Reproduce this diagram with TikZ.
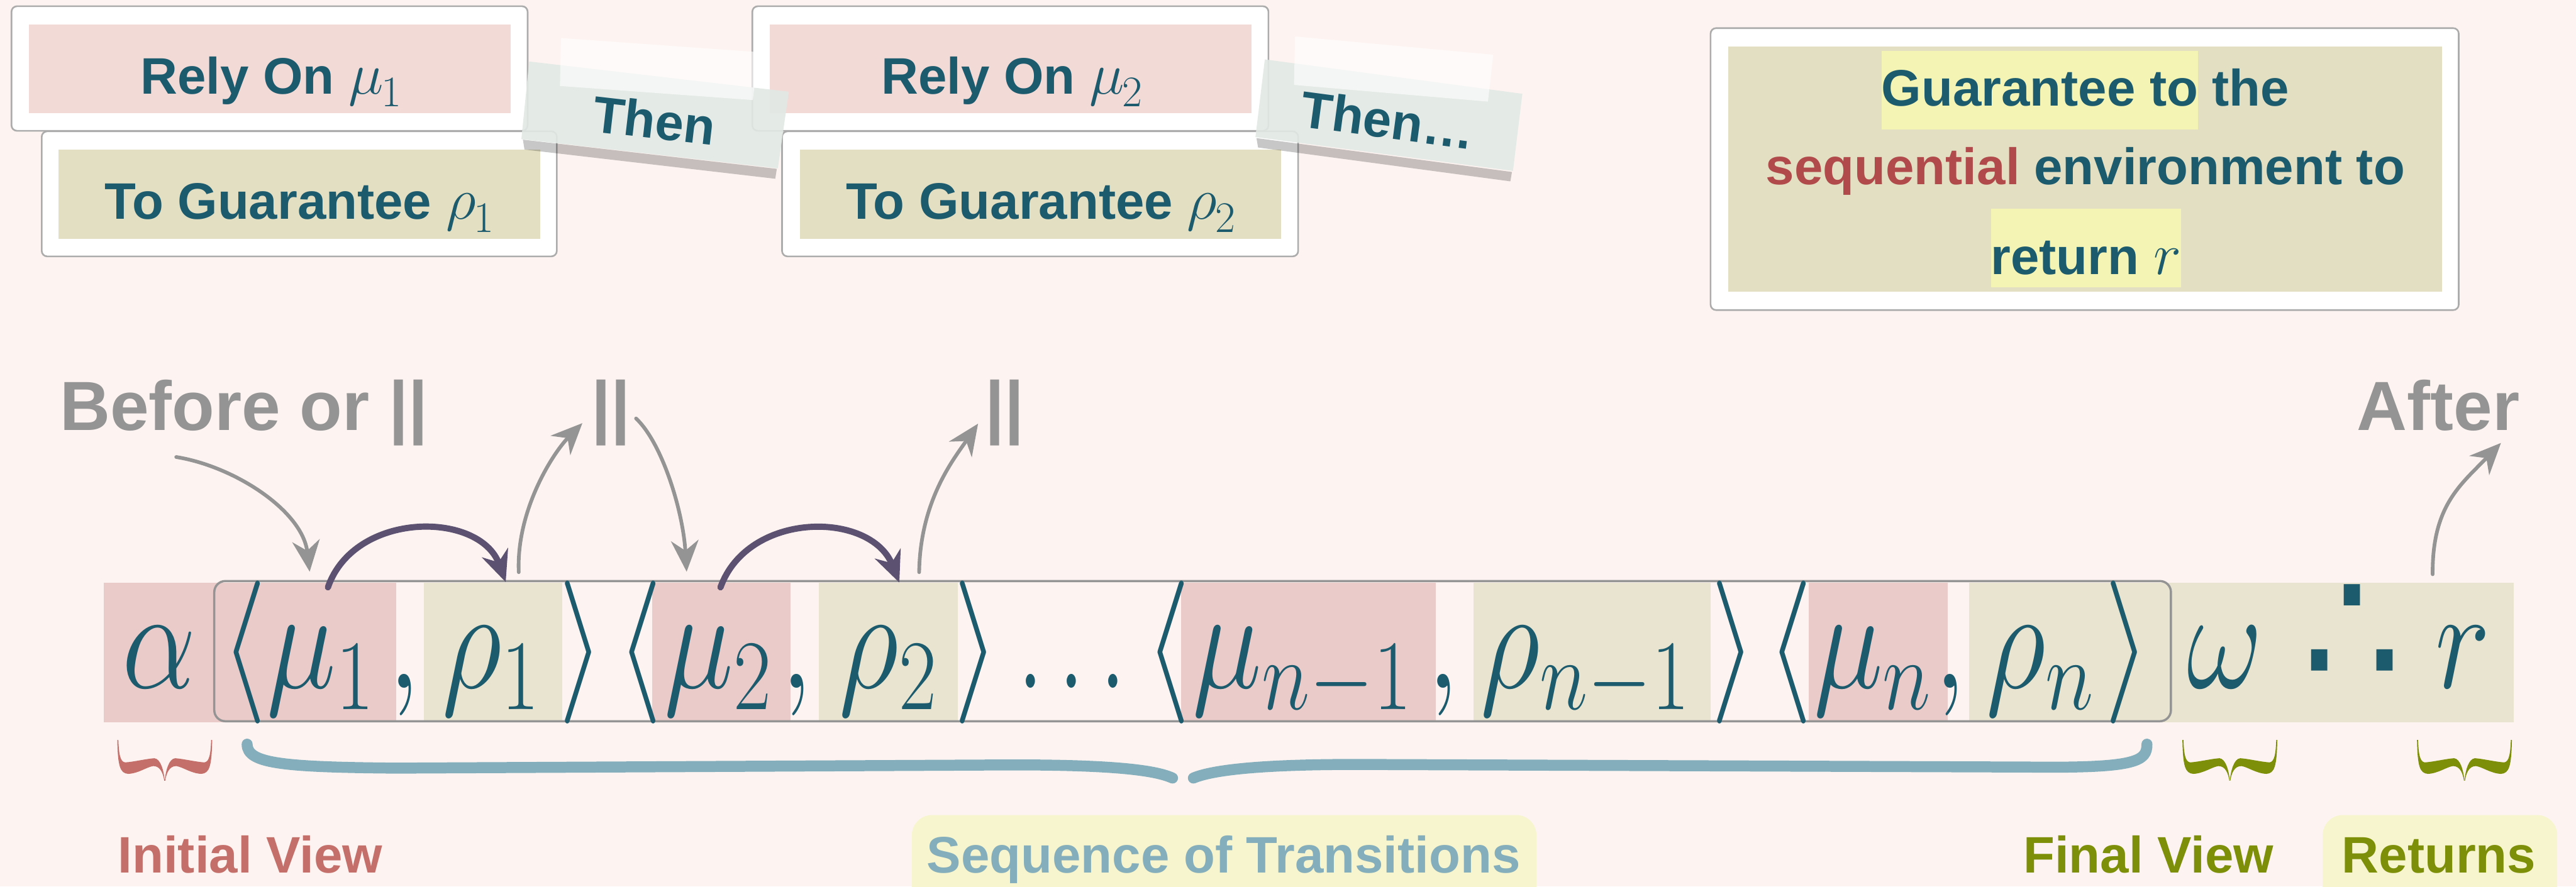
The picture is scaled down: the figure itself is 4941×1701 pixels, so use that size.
\RequirePackage{fix-cm}
\documentclass[tikz,border=0pt]{standalone}
\usepackage{fontspec}
\setmainfont{Liberation Sans}
\newfontfamily\djv{DejaVu Sans}
\usetikzlibrary{arrows.meta}
\setlength{\fboxsep}{0pt}
\definecolor{bgc}{HTML}{FDF4F1}
\definecolor{tealc}{HTML}{1C5A6E}
\definecolor{pinkbox}{HTML}{F2DAD7}
\definecolor{beigebox}{HTML}{E3DFC2}
\definecolor{pinkf}{HTML}{EACBC9}
\definecolor{beigef}{HTML}{E9E4CF}
\definecolor{hl}{HTML}{F4F4B4}
\definecolor{seqbg}{HTML}{F7F5CD}
\definecolor{redc}{HTML}{C46F6A}
\definecolor{seqred}{HTML}{B04A4B}
\definecolor{bluec}{HTML}{84AEBB}
\definecolor{olivec}{HTML}{7D8F08}
\definecolor{grayc}{HTML}{949494}
\definecolor{purp}{HTML}{5C5170}
\definecolor{tapec}{HTML}{E2E9E5}
\newcommand\fx[1]{\scalebox{0.82}[1]{$#1$}}
\newcommand\gm[2]{\scalebox{1.15}{$#1$}\kern-1pt\raisebox{-7pt}{\scalebox{0.85}{$#2$}}}
\tikzset{
  lbl/.style={inner sep=0pt, anchor=base, font=\fontsize{28}{34}\selectfont\bfseries},
  biglbl/.style={inner sep=0pt, anchor=base, font=\fontsize{38}{44}\selectfont\bfseries, text=grayc},
  fm/.style={inner sep=0pt, anchor=base, text=tealc, font=\fontsize{78}{80}\selectfont},
  wbox/.style={fill=white, draw=gray!65, line width=0.9pt, rounded corners=3pt},
  garrow/.style={draw=grayc, line width=2pt, line cap=round, -{Stealth[length=17pt,width=15pt]}},
  parrow/.style={draw=purp, line width=3.4pt, line cap=round, -{Stealth[length=17pt,width=15pt]}},
  bbrace/.style={draw=bluec, line width=6pt, line cap=round},
  hb/.pic={\fill[#1] (-91,0) .. controls (-90,50) and (-86,64) .. (-70,65)
     .. controls (-50,64) and (-35,52) .. (-22,50) .. controls (-8,50) and (-3,65) .. (-1,78)
     -- (0,78) .. controls (-2,58) and (-8,36) .. (-20,35) .. controls (-35,36) and (-60,42) .. (-76,43)
     .. controls (-86,42) and (-88,25) .. (-89,0) -- cycle;}
}
\begin{document}
\begin{tikzpicture}[x=0.01cm,y=-0.01cm]
\fill[bgc] (0,0) rectangle (4941,1701);
\useasboundingbox (0,0) rectangle (4941,1701);

% ---- top left boxes
\draw[wbox] (22,12) rectangle (1012,251);
\fill[pinkbox] (56,47) rectangle (979,217);
\node[lbl, text=tealc] (rely1) at (520,180) {Rely On \gm{\mu}{1}};
\draw[wbox] (80,252) rectangle (1068,492);
\fill[beigebox] (112,287) rectangle (1036,458);
\node[lbl, text=tealc] (guar1) at (574,421) {To Guarantee \gm{\rho}{1}};

\draw[wbox] (1443,12) rectangle (2433,251);
\fill[pinkbox] (1477,47) rectangle (2400,217);
\node[lbl, text=tealc] (rely2) at (1941,180) {Rely On \gm{\mu}{2}};
\draw[wbox] (1500,252) rectangle (2490,492);
\fill[beigebox] (1534,287) rectangle (2457,458);
\node[lbl, text=tealc] (guar2) at (1996,421) {To Guarantee \gm{\rho}{2}};

% ---- tapes
\fill[black, opacity=.22] (1003,268) -- (1490,324) -- (1487,343) -- (1006,287) -- cycle;
\fill[tapec, opacity=.9] (1015,118) -- (1513,176) -- (1492,323) -- (1000,267) -- cycle;
\fill[white, opacity=.6] (1076,73) -- (1454,100) -- (1444,192) -- (1074,165) -- cycle;
\node[lbl, text=tealc, anchor=center, rotate=-6.6] (then1) at (1255,231) {Then};

\fill[black, opacity=.22] (2410,265) -- (2900,330) -- (2897,348) -- (2413,283) -- cycle;
\fill[tapec, opacity=.9] (2426,114) -- (2920,180) -- (2902,328) -- (2408,263) -- cycle;
\fill[white, opacity=.6] (2484,70) -- (2864,105) -- (2854,195) -- (2482,163) -- cycle;
\node[lbl, text=tealc, anchor=center, rotate=-7.6] (then2) at (2662,230) {Then\ldots};

% ---- right box
\draw[wbox] (3281,54) rectangle (4716,595);
\fill[beigebox] (3315,89) rectangle (4684,560);
\node[lbl, text=tealc] (gl1) at (4000,203) {\colorbox{hl}{\rule[-13pt]{0pt}{43pt}Guarantee to} the};
\node[lbl] (gl2) at (4000,354) {\textcolor{seqred}{sequential} \textcolor{tealc}{environment to}};
\node[lbl, text=tealc] (gl3) at (4001,527) {\colorbox{hl}{\rule[-7pt]{0pt}{43pt}return \scalebox{1.15}{$r$}}};

% ---- formula backgrounds
\fill[pinkf] (199,1118) rectangle (760,1386);
\fill[beigef] (813,1118) rectangle (1079,1386);
\fill[pinkf] (1251,1118) rectangle (1516,1386);
\fill[beigef] (1570,1118) rectangle (1837,1386);
\fill[pinkf] (2266,1118) rectangle (2754,1386);
\fill[beigef] (2826,1118) rectangle (3281,1386);
\fill[pinkf] (3469,1118) rectangle (3736,1386);
\fill[beigef] (3777,1118) rectangle (4821,1386);
\draw[grayc, line width=1.2pt, rounded corners=6pt] (411,1115) rectangle (4164,1384);

% ---- formula
\node[fm] (alpha) at (305,1320) {\fx{\alpha}};
\node[fm] (la1) at (468,1320) {\fx{\langle}};
\node[fm] (mu1) at (615,1320) {\fx{\mu_1}};
\node[fm] (c1) at (775,1320) {\fx{,}};
\node[fm] (rho1) at (942,1320) {\fx{\rho_1}};
\node[fm] (ra1) at (1116,1320) {\fx{\rangle}};
\node[fm] (la2) at (1227,1320) {\fx{\langle}};
\node[fm] (mu2) at (1378,1320) {\fx{\mu_2}};
\node[fm] (c2) at (1528,1320) {\fx{,}};
\node[fm] (rho2) at (1704,1320) {\fx{\rho_2}};
\node[fm] (ra2) at (1873,1320) {\fx{\rangle}};
\node[fm] (dots) at (2056,1320) {\scalebox{0.66}[1]{$\ldots$}};
\node[fm] (la3) at (2240,1320) {\fx{\langle}};
\node[fm] (mun1) at (2498,1320) {\fx{\mu_{n-1}}};
\node[fm] (c3) at (2768,1320) {\fx{,}};
\node[fm] (rhon1) at (3041,1320) {\fx{\rho_{n-1}}};
\node[fm] (ra3) at (3325,1320) {\fx{\rangle}};
\node[fm] (la4) at (3433,1320) {\fx{\langle}};
\node[fm] (mun) at (3592,1320) {\fx{\mu_n}};
\node[fm] (c4) at (3740,1320) {\fx{,}};
\node[fm] (rhon) at (3913,1320) {\fx{\rho_n}};
\node[fm] (ra4) at (4081,1320) {\fx{\rangle}};
\node[fm] (omega) at (4267,1320) {\fx{\omega}};
\node[fm] (there) at (4511,1320) {\scalebox{1.1}[1.2]{\djv ∴}};
\node[fm] (rr) at (4724,1320) {\fx{r}};

% ---- top gray labels
\node[biglbl] (before) at (468,826) {Before or ||};
\node[biglbl] (par2) at (1172,826) {||};
\node[biglbl] (par3) at (1927,826) {||};
\node[biglbl] (after) at (4677,826) {After};

% ---- purple arcs
\coordinate (p1s) at (629,1127); \coordinate (p1e) at (970,1117);
\coordinate (p2s) at (1382,1127); \coordinate (p2e) at (1725,1118);
\draw[parrow] (p1s) .. controls (680,980) and (920,980) .. (p1e);
\draw[parrow] (p2s) .. controls (1435,980) and (1670,980) .. (p2e);

% ---- gray arrows
\coordinate (as) at (338,877); \coordinate (ae) at (594,1097);
\coordinate (bs) at (995,1098); \coordinate (be) at (1117,812);
\coordinate (cs) at (1220,803); \coordinate (ce) at (1317,1097);
\coordinate (ds) at (1763,1098); \coordinate (de) at (1876,813);
\coordinate (es) at (4666,1102); \coordinate (ee) at (4797,850);
\draw[garrow] (as) .. controls (450,895) and (580,980) .. (ae);
\draw[garrow] (bs) .. controls (990,980) and (1060,870) .. (be);
\draw[garrow] (cs) .. controls (1270,850) and (1310,980) .. (ce);
\draw[garrow] (ds) .. controls (1765,960) and (1830,880) .. (de);
\draw[garrow] (es) .. controls (4665,970) and (4720,930) .. (ee);

% ---- braces
\pic at (316,1420) {hb=redc};
\pic[xscale=-1] at (316,1420) {hb=redc};
\pic at (4277,1420) {hb=olivec};
\pic[xscale=-1] at (4277,1420) {hb=olivec};
\pic at (4727,1420) {hb=olivec};
\pic[xscale=-1] at (4727,1420) {hb=olivec};
\draw[bbrace] (474,1428) .. controls (474,1465) and (540,1472) .. (760,1474) -- (1900,1468) .. controls (2150,1466) and (2220,1480) .. (2249,1493);
\draw[bbrace] (2289,1493) .. controls (2320,1480) and (2400,1466) .. (2620,1467) -- (3900,1472) .. controls (4100,1474) and (4118,1460) .. (4118,1428);

% ---- bottom labels
\fill[seqbg, rounded corners=11pt] (1749,1760) -- (1749,1564) -- (2947,1564) -- (2947,1760) -- cycle;
\fill[seqbg, rounded corners=11pt] (4455,1760) -- (4455,1564) -- (4905,1564) -- (4905,1760) -- cycle;
\node[lbl, text=redc] (initial) at (480,1675) {Initial View};
\node[lbl, text=bluec] (seq) at (2347,1675) {Sequence of Transitions};
\node[lbl, text=olivec] (final) at (4121,1675) {Final View};
\node[lbl, text=olivec] (ret) at (4678,1675) {Returns};
\end{tikzpicture}
\end{document}
